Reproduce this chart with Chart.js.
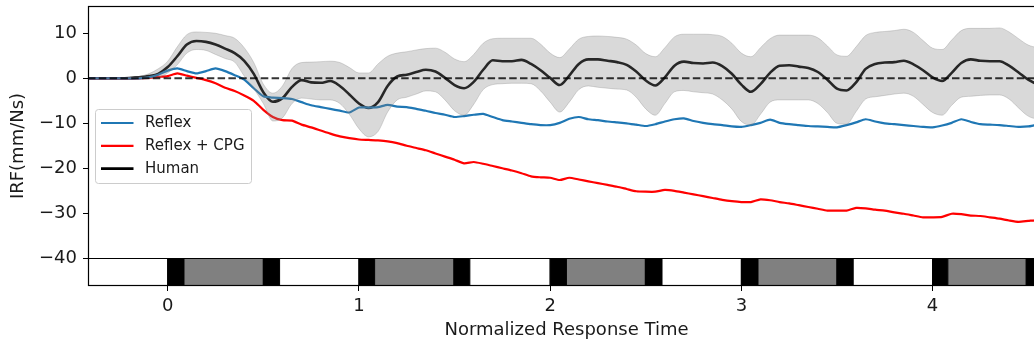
<!DOCTYPE html>
<html>
<head>
<meta charset="utf-8">
<title>IRF</title>
<script src="https://cdn.jsdelivr.net/npm/chart.js@4.4.1/dist/chart.umd.min.js"></script>
<style>
  html, body { margin: 0; padding: 0; background: #ffffff; overflow: hidden; width: 1034px; height: 345px; }
  canvas { display: block; }
</style>
</head>
<body>
<canvas id="irf" width="1045" height="345"></canvas>
<script>
// Normalized response time (gait cycles)
const time = [
  -0.45, -0.40, -0.35, -0.30, -0.25, -0.20, -0.15, -0.10, -0.05, 0.00,
   0.05,  0.10,  0.15,  0.20,  0.25,  0.30,  0.35,  0.40,  0.45, 0.50,
   0.55,  0.60,  0.65,  0.70,  0.75,  0.80,  0.85,  0.90,  0.95, 1.00,
   1.05,  1.10,  1.15,  1.20,  1.25,  1.30,  1.35,  1.40,  1.45, 1.50,
   1.55,  1.60,  1.65,  1.70,  1.75,  1.80,  1.85,  1.90,  1.95, 2.00,
   2.05,  2.10,  2.15,  2.20,  2.25,  2.30,  2.35,  2.40,  2.45, 2.50,
   2.55,  2.60,  2.65,  2.70,  2.75,  2.80,  2.85,  2.90,  2.95, 3.00,
   3.05,  3.10,  3.15,  3.20,  3.25,  3.30,  3.35,  3.40,  3.45, 3.50,
   3.55,  3.60,  3.65,  3.70,  3.75,  3.80,  3.85,  3.90,  3.95, 4.00,
   4.05,  4.10,  4.15,  4.20,  4.25,  4.30,  4.35,  4.40,  4.45, 4.50,
   4.55,  4.60
];

// Impulse response of the reflex-only model (mm/Ns)
const reflex = [
  0, 0, 0, 0, 0, 0, 0, 0.2, 0.8, 1.7,
  2.2, 1.6, 1.1, 1.6, 2.2, 1.6, 0.7, -0.3, -2.2, -4.0,
  -4.3, -4.4, -4.6, -5.3, -6.0, -6.4, -6.8, -7.2, -7.6, -6.5,
  -6.5, -6.4, -5.9, -6.3, -6.4, -6.8, -7.2, -7.7, -8.1, -8.6,
  -8.4, -8.1, -7.9, -8.6, -9.3, -9.6, -9.9, -10.2, -10.4, -10.4,
  -9.9, -9.0, -8.6, -9.1, -9.3, -9.6, -9.8, -10.0, -10.3, -10.6,
  -10.2, -9.6, -9.1, -8.9, -9.5, -9.9, -10.2, -10.4, -10.7, -10.8,
  -10.4, -9.9, -9.2, -9.9, -10.2, -10.4, -10.6, -10.7, -10.8, -10.9,
  -10.4, -9.8, -9.1, -9.6, -10.0, -10.2, -10.4, -10.6, -10.8, -10.9,
  -10.5, -9.9, -9.1, -9.7, -10.2, -10.3, -10.4, -10.6, -10.8, -10.7,
  -10.3, -10.2
];

// Impulse response of the reflex + CPG model (mm/Ns)
const reflexCpg = [
  0, 0, 0, 0, 0, 0, 0, 0.1, 0.3, 0.5,
  1.1, 0.6, 0.1, -0.4, -1.1, -2.1, -2.8, -3.8, -5.0, -7.0,
  -8.6, -9.3, -9.4, -10.3, -10.9, -11.6, -12.3, -12.9, -13.3, -13.6,
  -13.7, -13.8, -14.0, -14.4, -15.0, -15.5, -16.0, -16.7, -17.4, -18.1,
  -18.9, -18.6, -19.0, -19.5, -20.0, -20.5, -21.1, -21.8, -22.0, -22.1,
  -22.6, -22.1, -22.5, -22.9, -23.3, -23.7, -24.1, -24.6, -25.1, -25.2,
  -25.2, -24.8, -25.0, -25.4, -25.8, -26.2, -26.6, -27.0, -27.3, -27.5,
  -27.5, -26.9, -27.1, -27.5, -27.8, -28.2, -28.6, -29.0, -29.4, -29.4,
  -29.4, -28.8, -28.9, -29.2, -29.4, -29.8, -30.1, -30.5, -30.9, -30.9,
  -30.8, -30.1, -30.2, -30.5, -30.6, -30.9, -31.2, -31.6, -31.9, -31.7,
  -31.5, -31.4
];

// Human mean impulse response (mm/Ns)
const human = [
  0, 0, 0, 0, 0, 0.05, 0.2, 0.5, 1.0, 2.5,
  4.9, 7.5, 8.3, 8.1, 7.5, 6.6, 5.6, 3.9, 1.0, -3.1,
  -5.2, -4.4, -1.9, -0.4, -0.9, -1.0, -0.6, -1.7, -3.6, -5.6,
  -6.6, -5.3, -1.7, 0.4, 0.8, 1.4, 1.9, 1.5, 0.1, -1.5,
  -2.2, -0.8, 1.9, 4.0, 3.8, 3.8, 4.1, 3.2, 1.8, 0.1,
  -1.5, 0.6, 3.2, 4.2, 4.2, 3.9, 3.6, 3.0, 1.5, -0.5,
  -1.6, 0.2, 2.8, 3.7, 3.4, 3.3, 3.5, 2.7, 1.0, -1.4,
  -3.0, -1.3, 1.2, 2.8, 2.9, 2.6, 2.3, 1.4, -0.3, -2.3,
  -2.7, -0.9, 2.1, 3.2, 3.5, 3.6, 3.9, 3.1, 1.8, 0.2,
  -0.6, 1.2, 3.4, 4.2, 3.9, 3.8, 3.8, 2.8, 1.3, -0.3,
  -1.3, -1.5
];

// Human variability band: upper and lower bounds (mm/Ns)
const humanUpper = [
  0, 0, 0, 0, 0, 0.1, 0.4, 1.0, 2.1, 3.8,
  7.0, 9.7, 10.3, 10.2, 10.0, 9.5, 8.9, 6.8, 3.5, -1.3,
  -3.3, -1.7, 2.2, 3.5, 3.6, 3.7, 3.8, 3.5, 2.4, 1.2,
  1.2, 3.2, 4.9, 5.6, 5.9, 6.3, 6.6, 6.7, 5.8, 4.3,
  3.7, 5.3, 7.8, 8.8, 8.9, 8.9, 8.9, 8.9, 7.6, 5.6,
  4.6, 6.5, 8.7, 9.3, 9.4, 9.3, 9.1, 8.7, 7.4, 5.5,
  4.8, 6.8, 9.2, 9.8, 9.8, 9.8, 9.7, 9.3, 7.8, 5.6,
  4.8, 6.8, 8.8, 9.6, 9.6, 9.6, 9.6, 9.0, 7.2, 5.2,
  4.9, 7.0, 9.5, 10.2, 10.4, 10.6, 10.9, 10.2, 8.4, 6.7,
  6.4, 8.5, 10.6, 11.1, 11.1, 11.1, 11.2, 10.3, 8.8, 7.4,
  6.9, 7.2
];
const humanLower = [
  0, 0, 0, 0, 0, 0, 0.05, 0.1, 0.2, 1.2,
  3.0, 5.6, 6.4, 6.2, 5.3, 4.4, 3.6, 0.5, -2.3, -5.6,
  -9.5, -8.8, -5.6, -4.4, -4.6, -4.8, -4.8, -5.6, -8.0, -11.2,
  -13.0, -11.8, -7.5, -4.8, -4.2, -3.5, -2.8, -3.0, -4.8, -7.2,
  -8.2, -5.8, -2.5, -1.4, -1.2, -1.1, -1.1, -1.2, -2.8, -5.3,
  -7.5, -5.3, -2.5, -1.7, -2.0, -2.2, -2.4, -2.6, -4.2, -6.8,
  -8.2, -5.6, -3.0, -2.7, -3.0, -3.2, -3.5, -4.8, -6.8, -9.6,
  -10.4, -8.0, -5.3, -4.8, -4.8, -4.8, -4.8, -5.6, -7.6, -10.0,
  -10.2, -7.4, -4.6, -4.1, -3.8, -3.5, -3.3, -4.0, -5.8, -7.6,
  -8.2, -6.0, -4.2, -4.0, -3.8, -3.7, -3.7, -4.6, -6.6, -8.4,
  -9.0, -8.6
];

// Gait phase timeline shown beneath the responses
const gaitStart = [-0.45, 0.000, 0.085, 0.500, 0.585, 1.000, 1.082, 1.497, 1.580, 2.000,
                   2.085, 2.498, 2.585, 3.000, 3.087, 3.500, 3.585, 4.000, 4.080, 4.490];
const gaitEnd   = [0.000, 0.085, 0.500, 0.585, 1.000, 1.082, 1.497, 1.580, 2.000, 2.085,
                   2.498, 2.585, 3.000, 3.087, 3.500, 3.585, 4.000, 4.080, 4.490, 4.600];
const gaitPhase = ['swing', 'double', 'single', 'double', 'swing', 'double', 'single', 'double', 'swing', 'double',
                   'single', 'double', 'swing', 'double', 'single', 'double', 'swing', 'double', 'single', 'double'];
const gaitBandTop = -40;

// Axis limits and tick labels
const xLimits = [-0.417, 4.588];
const yLimits = [-46.16, 16.07];
const xTicks = [0, 1, 2, 3, 4];
const yTicks = [-40, -30, -20, -10, 0, 10];
const referenceLevel = 0;

const FONT = '"DejaVu Sans", "Liberation Sans", sans-serif';
const TEXT = '#1a1a1a';
const phaseFill = { swing: '#ffffff', double: '#000000', single: '#808080' };

const toPoints = (series) => time.map((t, i) => ({ x: t, y: series[i] }));
const minus = (v) => (v < 0 ? '\u2212' + Math.abs(v) : String(v));

const decorations = {
  id: 'decorations',
  afterDatasetsDraw(chart) {
    const { ctx, chartArea: a, scales: { x, y } } = chart;
    ctx.save();
    ctx.beginPath();
    ctx.rect(a.left, a.top, a.right - a.left, a.bottom - a.top);
    ctx.clip();

    // gait phase blocks
    const yTop = Math.round(y.getPixelForValue(gaitBandTop)) + 0.5;
    const yBot = a.bottom - 0.5;
    ctx.lineWidth = 1;
    ctx.strokeStyle = '#000000';
    for (let i = 0; i < gaitStart.length; i++) {
      const x0 = x.getPixelForValue(gaitStart[i]);
      const x1 = x.getPixelForValue(gaitEnd[i]);
      ctx.fillStyle = phaseFill[gaitPhase[i]];
      ctx.fillRect(x0, yTop, x1 - x0, yBot - yTop);
      ctx.strokeRect(x0, yTop, x1 - x0, yBot - yTop);
    }

    // dashed zero reference
    const y0 = y.getPixelForValue(referenceLevel);
    ctx.setLineDash([7.5, 3.3]);
    ctx.lineWidth = 1.9;
    ctx.strokeStyle = 'rgba(0,0,0,0.8)';
    ctx.beginPath();
    ctx.moveTo(a.left, y0);
    ctx.lineTo(a.right, y0);
    ctx.stroke();
    ctx.restore();

    // axes frame
    ctx.save();
    ctx.lineWidth = 1.2;
    ctx.strokeStyle = '#000000';
    ctx.strokeRect(a.left + 0.5, a.top + 0.5, a.right - a.left - 1, a.bottom - a.top - 1);
    ctx.restore();
  },
  afterDraw(chart) {
    const { ctx } = chart;
    const entries = chart.data.datasets.filter(d => d.inLegend);
    const bx = 95.5, by = 109.5, bw = 156, bh = 74, r = 3;
    ctx.save();
    ctx.beginPath();
    ctx.roundRect(bx, by, bw, bh, r);
    ctx.fillStyle = 'rgba(255,255,255,0.8)';
    ctx.fill();
    ctx.lineWidth = 1;
    ctx.strokeStyle = '#cccccc';
    ctx.stroke();
    ctx.font = '15px ' + FONT;
    ctx.textBaseline = 'middle';
    ctx.textAlign = 'left';
    entries.forEach((d, i) => {
      const ry = 123 + i * 22.8;
      ctx.beginPath();
      ctx.moveTo(101, ry);
      ctx.lineTo(133.5, ry);
      ctx.lineWidth = d.borderWidth;
      ctx.strokeStyle = d.borderColor;
      ctx.stroke();
      ctx.fillStyle = TEXT;
      ctx.fillText(d.label, 145, ry + 0.5);
    });
    ctx.restore();
  }
};

new Chart(document.getElementById('irf'), {
  type: 'line',
  data: {
    datasets: [
      {
        label: 'Human spread upper',
        data: toPoints(humanUpper),
        borderColor: 'rgba(128,128,128,0.30)',
        backgroundColor: 'rgba(128,128,128,0.30)',
        borderWidth: 1,
        fill: '+1',
        pointRadius: 0,
        cubicInterpolationMode: 'monotone'
      },
      {
        label: 'Human spread lower',
        data: toPoints(humanLower),
        borderColor: 'rgba(128,128,128,0.30)',
        borderWidth: 1,
        fill: false,
        pointRadius: 0,
        cubicInterpolationMode: 'monotone'
      },
      {
        label: 'Reflex',
        inLegend: true,
        data: toPoints(reflex),
        borderColor: '#1f77b4',
        borderWidth: 2.2,
        fill: false,
        pointRadius: 0,
        tension: 0.2
      },
      {
        label: 'Reflex + CPG',
        inLegend: true,
        data: toPoints(reflexCpg),
        borderColor: '#ff0000',
        borderWidth: 2.2,
        fill: false,
        pointRadius: 0,
        tension: 0.2
      },
      {
        label: 'Human',
        inLegend: true,
        data: toPoints(human),
        borderColor: '#000000',
        borderWidth: 2.6,
        fill: false,
        pointRadius: 0,
        cubicInterpolationMode: 'monotone'
      }
    ]
  },
  options: {
    responsive: false,
    animation: false,
    devicePixelRatio: 1,
    layout: { padding: { top: 6, right: 0, bottom: 0, left: 0 } },
    plugins: { legend: { display: false }, tooltip: { enabled: false } },
    scales: {
      x: {
        type: 'linear',
        min: xLimits[0],
        max: xLimits[1],
        afterBuildTicks: (s) => { s.ticks = xTicks.map(v => ({ value: v })); },
        afterFit: (s) => { s.height = 59; s.paddingLeft = 0; s.paddingRight = 0; },
        ticks: { font: { family: FONT, size: 18 }, color: TEXT, padding: 5, maxRotation: 0, callback: (v) => minus(v) },
        grid: { drawOnChartArea: false, drawTicks: true, tickLength: 5, color: '#000000', lineWidth: 1 },
        border: { display: false },
        title: { display: true, text: 'Normalized Response Time', font: { family: FONT, size: 18 }, color: TEXT, padding: { top: 0, bottom: 4 } }
      },
      y: {
        type: 'linear',
        min: yLimits[0],
        max: yLimits[1],
        afterBuildTicks: (s) => { s.ticks = yTicks.map(v => ({ value: v })); },
        afterFit: (s) => { s.width = 88; s.paddingTop = 0; s.paddingBottom = 0; },
        ticks: { font: { family: FONT, size: 18 }, color: TEXT, padding: 6, callback: (v) => minus(v) },
        grid: { drawOnChartArea: false, drawTicks: true, tickLength: 5, color: '#000000', lineWidth: 1 },
        border: { display: false },
        title: { display: true, text: 'IRF(mm/Ns)', font: { family: FONT, size: 18 }, color: TEXT, padding: { top: 8, bottom: 0 } }
      }
    }
  },
  plugins: [decorations]
});
</script>
</body>
</html>
